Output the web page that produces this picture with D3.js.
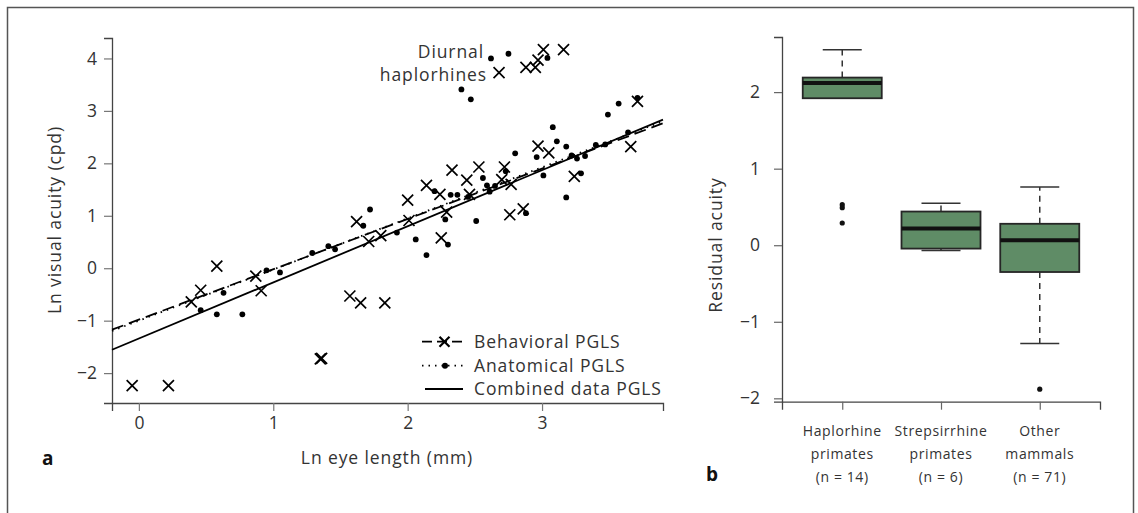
<!DOCTYPE html>
<html>
<head>
<meta charset="utf-8">
<script src="https://cdn.jsdelivr.net/npm/d3@7"></script>
<style>
  body { margin: 0; background: #fff; }
  svg { font-family: "Open Sans", sans-serif; }
</style>
</head>
<body>
<div class="canvas"></div>
<script>
// panel a: behavioral (x markers) and anatomical (dots) points, [ln eye length, ln acuity]
const behavioral = [
  [-0.05, -2.24], [0.22, -2.24], [0.39, -0.64], [0.46, -0.42], [0.58, 0.04],
  [0.87, -0.15], [0.91, -0.43], [1.35, -1.73], [1.36, -1.72], [1.57, -0.53],
  [1.65, -0.66], [1.83, -0.66], [1.62, 0.89], [1.71, 0.51], [1.8, 0.62],
  [2.0, 1.3], [2.01, 0.91], [2.14, 1.58], [2.24, 1.41], [2.25, 0.58],
  [2.29, 1.07], [2.33, 1.87], [2.44, 1.68], [2.46, 1.41], [2.53, 1.93],
  [2.7, 1.69], [2.72, 1.93], [2.77, 1.6], [2.76, 1.02], [2.86, 1.13],
  [2.97, 2.33], [3.05, 2.2], [3.24, 1.75], [3.66, 2.32], [3.71, 3.18],
  [2.68, 3.73], [2.88, 3.83], [2.95, 3.83], [2.97, 3.97], [3.01, 4.17], [3.16, 4.17]
];
const anatomical = [
  [0.46, -0.8], [0.58, -0.88], [0.63, -0.47], [0.77, -0.88], [0.95, -0.04],
  [1.05, -0.08], [1.29, 0.29], [1.41, 0.42], [1.46, 0.36], [1.67, 0.81],
  [1.72, 1.12], [1.92, 0.68], [2.06, 0.55], [2.14, 0.25], [2.2, 1.47],
  [2.28, 0.93], [2.3, 0.45], [2.32, 1.4], [2.37, 1.4], [2.45, 1.36],
  [2.51, 0.9], [2.56, 1.72], [2.59, 1.58], [2.61, 1.46], [2.65, 1.57],
  [2.73, 1.85], [2.8, 2.19], [2.88, 1.05], [2.96, 2.12], [3.01, 1.77],
  [3.08, 2.69], [3.11, 2.42], [3.18, 2.32], [3.18, 1.35], [3.22, 2.15],
  [3.26, 2.09], [3.29, 1.81], [3.32, 2.14], [3.4, 2.35], [3.47, 2.36],
  [3.49, 2.93], [3.57, 3.14], [3.64, 2.59], [3.71, 3.25],
  [2.4, 3.41], [2.47, 3.22], [2.62, 4.0], [2.75, 4.09], [3.04, 4.01]
];
// PGLS fits: intercept, slope
const fitNames = ["Behavioral PGLS", "Anatomical PGLS", "Combined data PGLS"];
const fitIntercepts = [-0.98, -1.0, -1.34];
const fitSlopes = [0.96, 0.975, 1.07];
const xTicksA = [0, 1, 2, 3];
const yTicksA = [-2, -1, 0, 1, 2, 3, 4];

// panel b: boxplot of residual acuity
const groups = ["Haplorhine", "Strepsirrhine", "Other"];
const groupLabels = [["Haplorhine", "primates", "(n = 14)"], ["Strepsirrhine", "primates", "(n = 6)"], ["Other", "mammals", "(n = 71)"]];
const whiskLo = [1.92, -0.07, -1.285];
const q1 = [1.92, -0.044, -0.35];
const median = [2.12, 0.217, 0.065];
const q3 = [2.19, 0.44, 0.28];
const whiskHi = [2.555, 0.548, 0.76];
const outliers = [[0.53, 0.49, 0.29], [], [-1.88]];
const yTicksB = [-2, -1, 0, 1, 2];

const W = 1138, H = 513;
const svg = d3.select(".canvas").append("svg").attr("width", W).attr("height", H);

// outer frame
svg.append("rect")
  .attr("x", 7.5).attr("y", 7.5)
  .attr("width", 1126).attr("height", 520)
  .attr("fill", "none").attr("stroke", "#555").attr("stroke-width", 1.5);

const textCol = "#333";
const fs = "17.5px", ls = "0.9px";
const minus = d => d < 0 ? "\u2212" + Math.abs(d) : d;

// ---------- panel a ----------
const x = d3.scaleLinear().domain([-0.2, 3.9]).range([112, 663]);
const y = d3.scaleLinear().domain([-2.57, 4.39]).range([403, 38]);

const xAxisA = svg.append("g").attr("transform", "translate(0,403)")
  .call(d3.axisBottom(x).tickValues(xTicksA).tickSize(8).tickPadding(6).tickFormat(d3.format("d")));
const yAxisA = svg.append("g").attr("transform", "translate(112,0)")
  .call(d3.axisLeft(y).tickValues(yTicksA).tickSize(8).tickPadding(7).tickFormat(minus));

[xAxisA, yAxisA].forEach(g => {
  g.select(".domain").attr("stroke", "#444").attr("stroke-width", 1.3);
  g.selectAll(".tick line").attr("stroke", "#777").attr("stroke-width", 1.2);
  g.selectAll(".tick text").attr("fill", textCol).style("font-size", fs).style("font-family", "Open Sans");
});

// regression lines
const dashes = ["12,6", "1.5,5", null];
fitNames.forEach((n, i) => {
  const line = d3.line().x(d => x(d)).y(d => y(fitIntercepts[i] + fitSlopes[i] * d));
  svg.append("path")
    .attr("d", line(x.domain()))
    .attr("fill", "none")
    .attr("stroke", "#000")
    .attr("stroke-width", 1.8)
    .attr("stroke-dasharray", dashes[i]);
});

const cross = s => `M${-s},${-s}L${s},${s}M${s},${-s}L${-s},${s}`;

svg.append("g").selectAll("path").data(behavioral).enter().append("path")
  .attr("transform", d => `translate(${x(d[0])},${y(d[1])})`)
  .attr("d", cross(5.5))
  .attr("stroke", "#000").attr("stroke-width", 1.7).attr("fill", "none");

svg.append("g").selectAll("circle").data(anatomical).enter().append("circle")
  .attr("cx", d => x(d[0])).attr("cy", d => y(d[1]))
  .attr("r", 2.9).attr("fill", "#000");

// annotation
svg.append("text").attr("x", 484).attr("y", 58).attr("text-anchor", "end")
  .attr("fill", textCol).style("font-size", fs).style("letter-spacing", ls).text("Diurnal");
svg.append("text").attr("x", 487).attr("y", 81).attr("text-anchor", "end")
  .attr("fill", textCol).style("font-size", fs).style("letter-spacing", ls).text("haplorhines");

// legend
const legend = svg.append("g");
const legRows = [341.7, 365.7, 389];
fitNames.forEach((n, i) => {
  const yy = legRows[i];
  legend.append("line")
    .attr("x1", i === 2 ? 425 : 422).attr("x2", 463).attr("y1", yy).attr("y2", yy)
    .attr("stroke", "#000").attr("stroke-width", 1.8)
    .attr("stroke-dasharray", i === 0 ? "10,5" : i === 1 ? "1.5,5" : null);
  if (i === 0) {
    legend.append("path").attr("transform", `translate(444.5,${yy})`).attr("d", cross(5))
      .attr("stroke", "#000").attr("stroke-width", 2.2);
  } else if (i === 1) {
    legend.append("circle").attr("cx", 445).attr("cy", yy).attr("r", 3).attr("fill", "#000");
  }
  legend.append("text").attr("x", 474).attr("y", yy + 6)
    .attr("fill", textCol).style("font-size", fs).style("letter-spacing", ls).text(n);
});

// axis titles
svg.append("text").attr("x", 387).attr("y", 464).attr("text-anchor", "middle")
  .attr("fill", textCol).style("font-size", fs).style("letter-spacing", ls).text("Ln eye length (mm)");
svg.append("text").attr("transform", "translate(61,220) rotate(-90)").attr("text-anchor", "middle")
  .attr("fill", textCol).style("font-size", fs).style("letter-spacing", ls).text("Ln visual acuity (cpd)");
svg.append("text").attr("x", 42).attr("y", 465)
  .attr("fill", "#111").style("font-size", "19px").style("font-weight", "bold").text("a");

// ---------- panel b ----------
const xb = d3.scalePoint().domain(groups).range([782, 1100]).padding(0.61);
const yb = d3.scaleLinear().domain([-2.044, 2.72]).range([401.7, 37]);
const boxW = 79, capW = 39;

const xAxisB = svg.append("g").attr("transform", "translate(0,401.7)")
  .call(d3.axisBottom(xb).tickSize(8).tickFormat(""));
const yAxisB = svg.append("g").attr("transform", "translate(782,0)")
  .call(d3.axisLeft(yb).tickValues(yTicksB).tickSize(8).tickPadding(14).tickFormat(minus));
[xAxisB, yAxisB].forEach(g => {
  g.select(".domain").attr("stroke", "#444").attr("stroke-width", 1.3);
  g.selectAll(".tick line").attr("stroke", "#666").attr("stroke-width", 1.2);
  g.selectAll(".tick text").attr("fill", textCol).style("font-size", fs).style("font-family", "Open Sans");
});

const boxes = svg.append("g");
groups.forEach((gname, i) => {
  const cx = xb(gname);
  // whiskers
  boxes.append("line").attr("x1", cx).attr("x2", cx).attr("y1", yb(q3[i])).attr("y2", yb(whiskHi[i]))
    .attr("stroke", "#333").attr("stroke-width", 1.5).attr("stroke-dasharray", "6,5");
  boxes.append("line").attr("x1", cx).attr("x2", cx).attr("y1", yb(q1[i])).attr("y2", yb(whiskLo[i]))
    .attr("stroke", "#333").attr("stroke-width", 1.5).attr("stroke-dasharray", "6,5");
  [whiskHi[i], whiskLo[i]].forEach(v => {
    boxes.append("line").attr("x1", cx - capW / 2).attr("x2", cx + capW / 2).attr("y1", yb(v)).attr("y2", yb(v))
      .attr("stroke", "#333").attr("stroke-width", 1.5);
  });
  boxes.append("rect")
    .attr("x", cx - boxW / 2).attr("y", yb(q3[i]))
    .attr("width", boxW).attr("height", yb(q1[i]) - yb(q3[i]))
    .attr("fill", "#5f8c66").attr("stroke", "#262626").attr("stroke-width", 1.8);
  boxes.append("line").attr("x1", cx - boxW / 2).attr("x2", cx + boxW / 2)
    .attr("y1", yb(median[i])).attr("y2", yb(median[i]))
    .attr("stroke", "#111").attr("stroke-width", 4);
  outliers[i].forEach(v => {
    boxes.append("circle").attr("cx", cx).attr("cy", yb(v)).attr("r", 2.6).attr("fill", "#111");
  });
  groupLabels[i].forEach((t, k) => {
    svg.append("text").attr("x", cx).attr("y", 436 + k * 23).attr("text-anchor", "middle")
      .attr("fill", textCol).style("font-size", "14px").style("letter-spacing", "0.6px").text(t);
  });
});

svg.append("text").attr("transform", "translate(722,245) rotate(-90)").attr("text-anchor", "middle")
  .attr("fill", textCol).style("font-size", fs).style("letter-spacing", ls).text("Residual acuity");
svg.append("text").attr("x", 706).attr("y", 481)
  .attr("fill", "#111").style("font-size", "19px").style("font-weight", "bold").text("b");
</script>
</body>
</html>
